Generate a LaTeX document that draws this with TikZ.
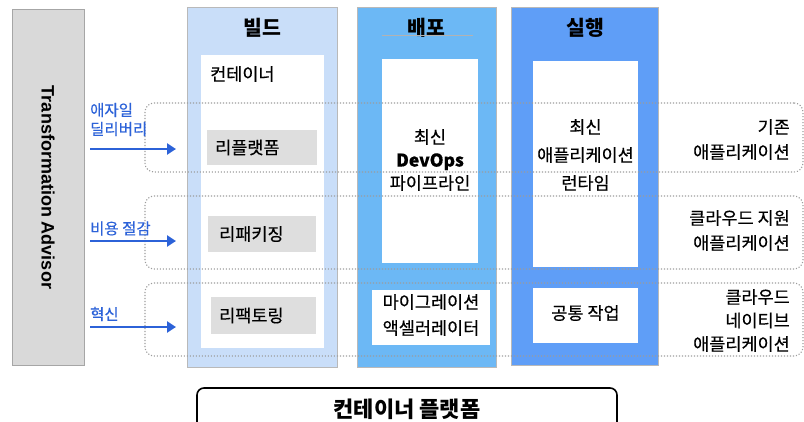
\documentclass[tikz,border=0pt]{standalone}
\usepackage{fontspec}
\setmainfont{Noto Sans CJK KR}
\newfontfamily\bodyfont{Noto Sans CJK KR}[FakeBold=0.4]
\newfontfamily\advisorfont{Liberation Sans}
\usepackage{tikz}
\usetikzlibrary{arrows.meta}

\definecolor{buildblue}{HTML}{C9DEF9}
\definecolor{deployblue}{HTML}{6CB8F5}
\definecolor{runblue}{HTML}{5F9EF7}
\definecolor{panelgray}{HTML}{D9D9D9}
\definecolor{taskgray}{HTML}{DEDEDE}
\definecolor{goalblue}{HTML}{2C62D8}
\definecolor{rowgray}{HTML}{9C9C9C}

\tikzset{
  box/.style={rectangle, inner sep=0pt, outer sep=0pt},
  stage/.style={box, draw=gray!55, line width=1pt, fill=#1},
  pane/.style={box, fill=white},
  task/.style={box, fill=taskgray},
  rowband/.style={box, draw=rowgray, line width=1.1pt, dash pattern=on 1.1pt off 1.9pt, rounded corners=9pt},
  goal/.style={draw=goalblue, line width=2.3pt, -{Triangle[length=9pt,width=11pt]}},
  title/.style={inner sep=0pt, font=\fontsize{20.5}{24}\selectfont\bfseries},
  body/.style={inner sep=0pt, align=center, font=\bodyfont\fontsize{17.5}{#1}\selectfont},
  body/.default=20,
  goaltext/.style={inner sep=0pt, anchor=west, align=left, text=goalblue, font=\bodyfont\fontsize{15.5}{19}\selectfont},
  apptext/.style={inner sep=0pt, anchor=east, align=right, font=\bodyfont\fontsize{17.5}{#1}\selectfont}
}

\begin{document}
\begin{tikzpicture}[x=1pt,y=-1pt]
  \useasboundingbox (0,0) rectangle (804,421);

  % left panel
  \node[stage=panelgray, draw=gray!70, minimum width=72pt, minimum height=356pt] (advisor) at (48,187) {};
  \node[rotate=-90, inner sep=0pt, font=\advisorfont\fontsize{18}{20}\selectfont\bfseries] (advisortext) at (48,187.5) {Transformation Advisor};

  % build / deploy / run columns
  \node[stage=buildblue, minimum width=150pt, minimum height=360pt] (build) at (262,187) {};
  \node[pane, minimum width=123pt, minimum height=293pt] (buildpane) at (262.5,201.5) {};
  \node[task, minimum width=110pt, minimum height=35pt] (replatform) at (262,147.5) {};
  \node[task, minimum width=108pt, minimum height=36pt] (repackage) at (262,234) {};
  \node[task, minimum width=105pt, minimum height=37pt] (refactor) at (263.5,315.5) {};

  \node[stage=deployblue, minimum width=139pt, minimum height=360pt] (deploy) at (426.5,187) {};
  \node[pane, minimum width=96pt, minimum height=204pt] (pipeline) at (430,161) {};
  \node[pane, minimum width=118pt, minimum height=55pt] (accelerator) at (431,317.5) {};

  \node[stage=runblue, minimum width=147pt, minimum height=358pt] (run) at (584.5,186) {};
  \node[pane, minimum width=105pt, minimum height=206pt] (runtime) at (585.5,164) {};
  \node[pane, minimum width=105pt, minimum height=55pt] (commonops) at (585.5,315.5) {};

  % dotted application rows
  \node[rowband, minimum width=658pt, minimum height=69pt] (legacy) at (474,137.5) {};
  \node[rowband, minimum width=658pt, minimum height=73pt] (cloudready) at (474,232.5) {};
  \node[rowband, minimum width=658pt, minimum height=73pt] (cloudnative) at (474,319.5) {};

  % column titles
  \node[title] (buildtitle) at (262,28) {빌드};
  \node[title] (deploytitle) at (426,28) {배포};
  \node[title] (runtitle) at (585,28) {실행};
  \draw[gray!60, line width=0.5pt] (382,35.5) -- (473,35.5);

  % texts in the columns
  \node[body, anchor=west] (containertext) at (210,74) {컨테이너};
  \node[body, anchor=west] (replatformtext) at (215,147.5) {리플랫폼};
  \node[body, anchor=west] (repackagetext) at (219,234) {리패키징};
  \node[body, anchor=west] (refactortext) at (219,315.5) {리팩토링};
  \node[body=23] (pipelinetext) at (430,160) {최신\\{\fontsize{17.5}{23}\selectfont\bfseries DevOps}\\파이프라인};
  \node[body=26] (acceleratortext) at (431,315) {마이그레이션\\액셀러레이터};
  \node[body=28] (runtimetext) at (585.5,155) {최신\\애플리케이션\\런타임};
  \node[body] (commonopstext) at (585.5,313) {공통 작업};

  % row labels on the right
  \node[apptext=25] (legacytext) at (790,139.5) {기존\\애플리케이션};
  \node[apptext=25] (cloudreadytext) at (790,230.5) {클라우드 지원\\애플리케이션};
  \node[apptext=23.5] (cloudnativetext) at (790,320.5) {클라우드\\네이티브\\애플리케이션};

  % goals and arrows
  \node[goaltext] (agile) at (90,119.5) {애자일\\딜리버리};
  \node[goaltext] (cost) at (90,228.5) {비용 절감};
  \node[goaltext] (innovation) at (90,314) {혁신};
  \coordinate (agileS) at (90,149);
  \coordinate (agileE) at (176,149);
  \coordinate (costS) at (90,241);
  \coordinate (costE) at (176,241);
  \coordinate (innovS) at (90,327);
  \coordinate (innovE) at (176,327);
  \draw[goal] (agileS) -- (agileE);
  \draw[goal] (costS) -- (costE);
  \draw[goal] (innovS) -- (innovE);

  % container platform
  \node[box, draw=black, line width=1.6pt, rounded corners=7pt, minimum width=420pt, minimum height=60pt] (platform) at (407,418) {};
  \node[inner sep=0pt, font=\fontsize{22}{24}\selectfont\bfseries] (platformtext) at (407,409) {컨테이너 플랫폼};
\end{tikzpicture}
\end{document}
